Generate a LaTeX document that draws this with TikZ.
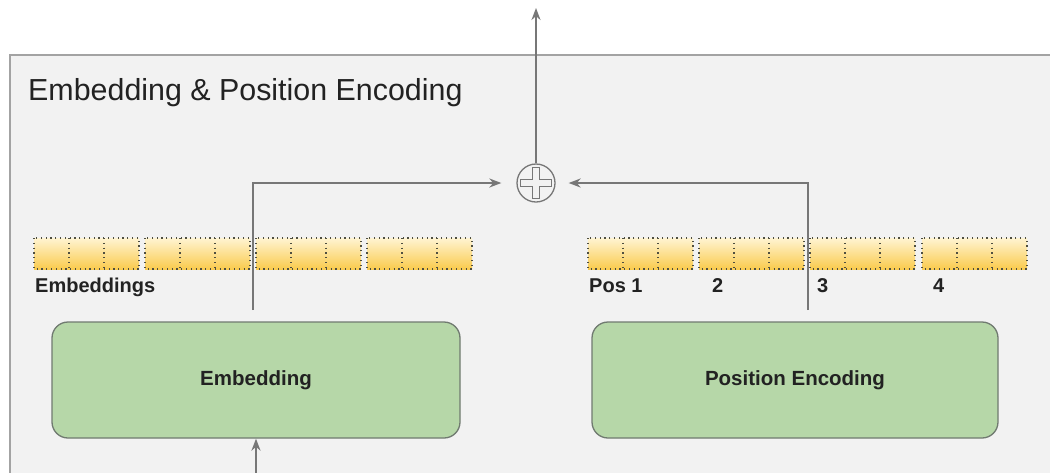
\documentclass[tikz,border=0pt]{standalone}
\usepackage{fontspec}
\setmainfont{Liberation Sans}
\usetikzlibrary{arrows.meta}
\definecolor{panelfill}{HTML}{F2F2F2}
\definecolor{paneldraw}{HTML}{A3A3A3}
\definecolor{barTop}{HTML}{FFF4D2}
\definecolor{barBot}{HTML}{FACB4E}
\definecolor{dotcol}{HTML}{4E4E40}
\definecolor{boxfill}{HTML}{B6D7A8}
\definecolor{boxdraw}{HTML}{707A70}
\definecolor{arrcol}{HTML}{777777}
\definecolor{txt}{HTML}{222222}
\tikzset{
  panel/.style={fill=panelfill,draw=paneldraw,line width=2pt},
  titletext/.style={font=\fontsize{30.4}{34}\selectfont,text=txt,inner sep=0pt},
  lbl/.style={font=\bfseries\fontsize{20}{22}\selectfont,text=txt,inner sep=0pt,anchor=west},
  greenbox/.style={draw=boxdraw,fill=boxfill,line width=1.3pt,rounded corners=16pt,
    minimum height=116pt,inner sep=0pt,font=\bfseries\fontsize{20.5}{23}\selectfont,text=txt},
  dotline/.style={draw=dotcol,line width=1.2pt,dash pattern=on 1.2pt off 3.6pt},
  arr/.style={draw=arrcol,line width=2pt,-{Stealth[length=12pt,width=9pt]}},
  plusnode/.style={circle,draw=arrcol,line width=1.3pt,minimum size=38pt,inner sep=0pt}
}
\newcommand\segbar[1]{%
  \shade[top color=barTop,bottom color=barBot] (#1,238) rectangle ++(105,31);
  \draw[dotline] (#1,238) rectangle ++(105,31);
  \draw[dotline] (#1+35,238) -- ++(0,31);
  \draw[dotline] (#1+70,238) -- ++(0,31);
}
\begin{document}
\begin{tikzpicture}[x=1pt,y=-1pt]
\useasboundingbox (0,0) rectangle (1050,472);
\clip (0,0) rectangle (1050,472);
\fill[white] (0,0) rectangle (1050,472);
\draw[panel] (10,55) rectangle (1080,495);
\node[titletext,anchor=west] (title) at (28,93) {Embedding \& Position Encoding};

% bars
\foreach \x in {34,145,256,367} {\segbar{\x}}
\foreach \x in {588,699,810,922} {\segbar{\x}}

\node[lbl] (lemb) at (35,287) {Embeddings};
\node[lbl] (lp1) at (589,286) {Pos 1};
\node[lbl] (lp2) at (712,286) {2};
\node[lbl] (lp3) at (817,286) {3};
\node[lbl] (lp4) at (933,286) {4};

% boxes
\node[greenbox,minimum width=408pt] (emb) at (256,380) {Embedding};
\node[greenbox,minimum width=406pt] (pe) at (795,380) {Position Encoding};

% plus
\node[plusnode] (plus) at (536,183) {};
\draw[arrcol,line width=1.2pt] (plus.center)
  ++(-3.5,-15.5) -- ++(7,0) -- ++(0,12) -- ++(12,0) -- ++(0,7) -- ++(-12,0)
  -- ++(0,12) -- ++(-7,0) -- ++(0,-12) -- ++(-12,0) -- ++(0,-7) -- ++(12,0) -- cycle;

% connectors
\coordinate (s1) at (253,310);
\coordinate (s2) at (808,310);
\coordinate (inp) at (256,480);
\coordinate (out) at (536,8);
\draw[arr,shorten >=15pt] (s1) |- (plus.west);
\draw[arr,shorten >=13pt] (s2) |- (plus.east);
\draw[arr] (plus.north) -- (out);
\draw[arr] (inp) -- (emb.south);
\end{tikzpicture}
\end{document}
